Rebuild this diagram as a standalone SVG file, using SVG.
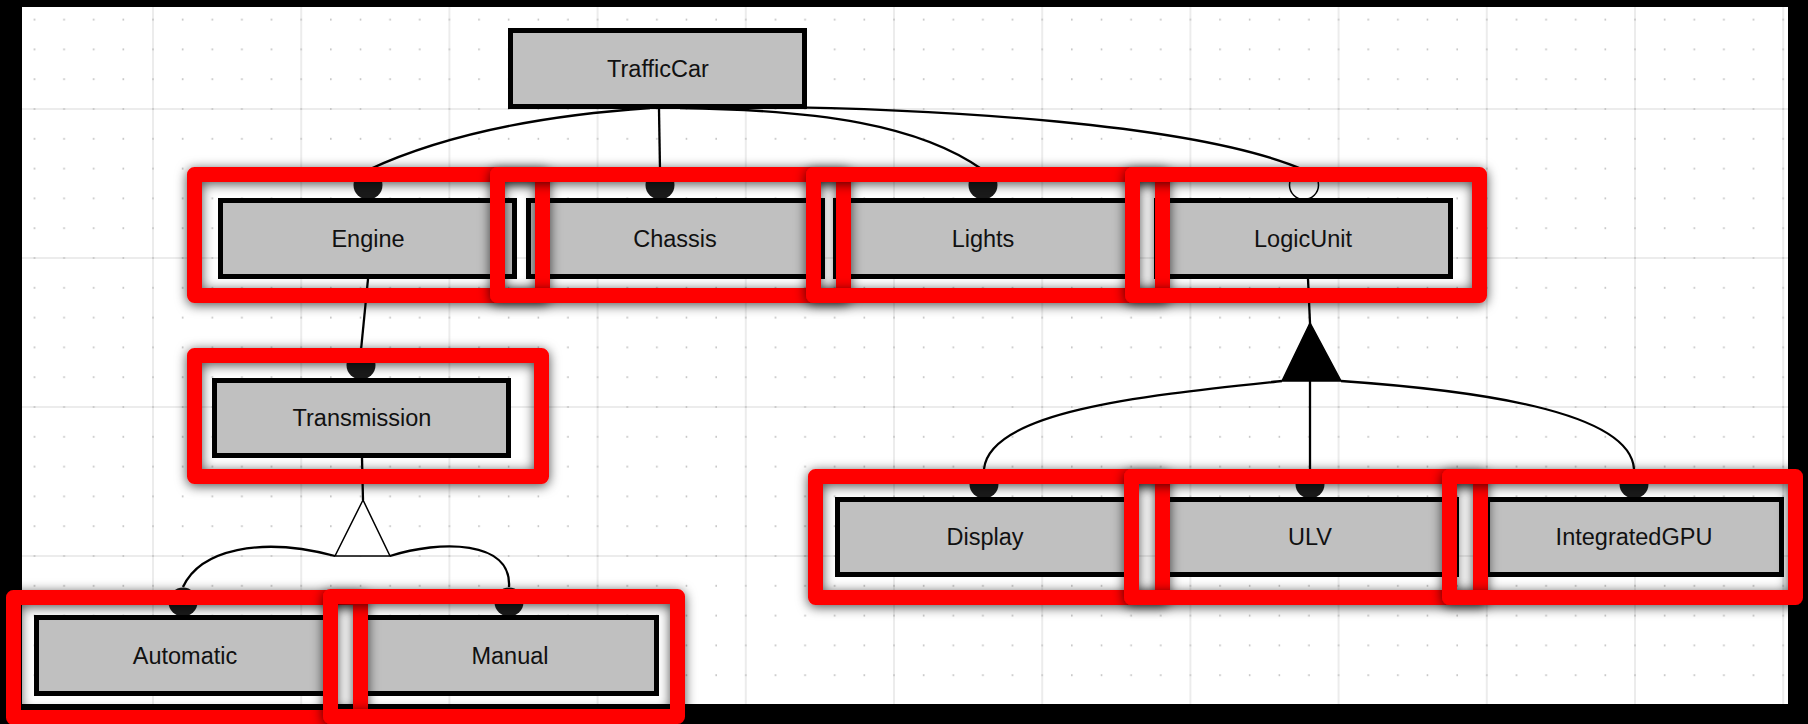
<svg xmlns="http://www.w3.org/2000/svg" xmlns:xlink="http://www.w3.org/1999/xlink" width="1808" height="724" viewBox="0 0 1808 724">
<style>
.box{fill:#c0c0c0;stroke:#000;stroke-width:5}
.lbl{font-family:"Liberation Sans",Arial,sans-serif;font-size:23.5px;fill:#111;text-anchor:middle}
.dot{fill:#1a1a1a}
.open{fill:none;stroke:#000;stroke-width:1.5}
.con{fill:none;stroke:#000;stroke-width:2.3}
.hl{fill:none;stroke:#ff0000;stroke-width:15;stroke-linejoin:round;filter:url(#sh)}
</style>
<defs>
<g id="dcol" fill="#c4c4c4">
<rect x="0.25" y="0" width="1.5" height="2"/>
<rect x="0.25" y="29.8" width="1.5" height="2"/>
<rect x="0.25" y="59.6" width="1.5" height="2"/>
<rect x="0.25" y="89.4" width="1.5" height="2"/>
<rect x="0.25" y="119.2" width="1.5" height="2"/>
</g>
<pattern id="grid" patternUnits="userSpaceOnUse" x="152" y="108" width="148.2" height="149">
<path d="M1,0V149M0,1H148.2" stroke="#e6e6e6" stroke-width="1.5" fill="none"/>
<use xlink:href="#dcol"/>
<use xlink:href="#dcol" x="29.64"/>
<use xlink:href="#dcol" x="59.28"/>
<use xlink:href="#dcol" x="88.92"/>
<use xlink:href="#dcol" x="118.56"/>
</pattern>
<filter id="sh" x="-10%" y="-25%" width="120%" height="150%">
<feGaussianBlur in="SourceAlpha" stdDeviation="6"/>
<feOffset dx="0" dy="2" result="b"/>
<feFlood flood-color="#000" flood-opacity="0.7"/>
<feComposite in2="b" operator="in"/>
<feMerge><feMergeNode/><feMergeNode in="SourceGraphic"/></feMerge>
</filter>
</defs>

<rect width="1808" height="724" fill="#000"/>
<rect x="22" y="7" width="1766" height="697" fill="#fff"/>
<rect x="22" y="7" width="1766" height="697" fill="url(#grid)"/>

<g id="connectors">
<path class="con" d="M650,108 Q475,120 368,170"/>
<path class="con" d="M659,109 L660,170"/>
<path class="con" d="M680,108 C820,110 920,125 983,170"/>
<path class="con" d="M700,106 C950,107 1200,125 1304,170"/>
<path class="con" d="M368,279 L361,350"/>
<path class="con" d="M362,458 L363,500"/>
<path d="M363,500 L335,556 L390,556 Z" fill="#fff" stroke="#000" stroke-width="1.5"/>
<path class="con" d="M335,556 C260,536 200,550 183,587"/>
<path class="con" d="M390,556 C440,540 512,540 509,587"/>
<path class="con" d="M1308,279 L1310,323"/>
<path d="M1310,323 L1282,381 L1341,381 Z" fill="#000" stroke="#000" stroke-width="1.5"/>
<path class="con" d="M1310,323 L1310,469"/>
<path class="con" d="M1282,381 C1150,395 990,410 984,469"/>
<path class="con" d="M1341,381 C1470,390 1630,410 1634,469"/>
</g>

<g id="TrafficCar">
<rect class="box" x="510.5" y="30.5" width="294" height="76"/>
<text class="lbl" x="658" y="77">TrafficCar</text>
</g>
<g id="Engine">
<circle class="dot" cx="368" cy="185" r="14.5"/>
<rect class="box" x="220.5" y="200.5" width="294" height="76"/>
<text class="lbl" x="368" y="247">Engine</text>
</g>
<g id="Chassis">
<circle class="dot" cx="660" cy="185" r="14.5"/>
<rect class="box" x="528.5" y="200.5" width="294" height="76"/>
<text class="lbl" x="675" y="247">Chassis</text>
</g>
<g id="Lights">
<circle class="dot" cx="983" cy="185" r="14.5"/>
<rect class="box" x="835.5" y="200.5" width="294" height="76"/>
<text class="lbl" x="983" y="247">Lights</text>
</g>
<g id="LogicUnit">
<circle class="open" cx="1304" cy="185" r="14.5"/>
<rect class="box" x="1156.5" y="200.5" width="294" height="76"/>
<text class="lbl" x="1303" y="247">LogicUnit</text>
</g>
<g id="Transmission">
<circle class="dot" cx="361" cy="365" r="14.5"/>
<rect class="box" x="214.5" y="380.5" width="294" height="75"/>
<text class="lbl" x="362" y="426">Transmission</text>
</g>
<g id="Automatic">
<circle class="dot" cx="183" cy="602" r="14.5"/>
<rect class="box" x="36.5" y="617.5" width="294" height="76"/>
<text class="lbl" x="185" y="664">Automatic</text>
</g>
<g id="Manual">
<circle class="dot" cx="509" cy="602" r="14.5"/>
<rect class="box" x="362.5" y="617.5" width="294" height="76"/>
<text class="lbl" x="510" y="664">Manual</text>
</g>
<g id="Display">
<circle class="dot" cx="984" cy="484" r="14.5"/>
<rect class="box" x="837.5" y="499.5" width="294" height="75"/>
<text class="lbl" x="985" y="545">Display</text>
</g>
<g id="ULV">
<circle class="dot" cx="1310" cy="484" r="14.5"/>
<rect class="box" x="1162.5" y="499.5" width="294" height="75"/>
<text class="lbl" x="1310" y="545">ULV</text>
</g>
<g id="IntegratedGPU">
<circle class="dot" cx="1634" cy="484" r="14.5"/>
<rect class="box" x="1487.5" y="499.5" width="294" height="75"/>
<text class="lbl" x="1634" y="545">IntegratedGPU</text>
</g>

<g id="highlights">
<rect class="hl" x="194.5" y="174.5" width="348" height="121"/>
<rect class="hl" x="497.5" y="174.5" width="346" height="121"/>
<rect class="hl" x="813.5" y="174.5" width="349" height="121"/>
<rect class="hl" x="1132.5" y="174.5" width="347" height="121"/>
<rect class="hl" x="194.5" y="355.5" width="347" height="121"/>
<rect class="hl" x="13.5" y="597.5" width="347" height="120"/>
<rect class="hl" x="330.5" y="596.5" width="347" height="120"/>
<rect class="hl" x="815.5" y="476.5" width="347" height="121"/>
<rect class="hl" x="1131.5" y="476.5" width="349" height="121"/>
<rect class="hl" x="1449.5" y="476.5" width="346" height="121"/>
</g>
</svg>
